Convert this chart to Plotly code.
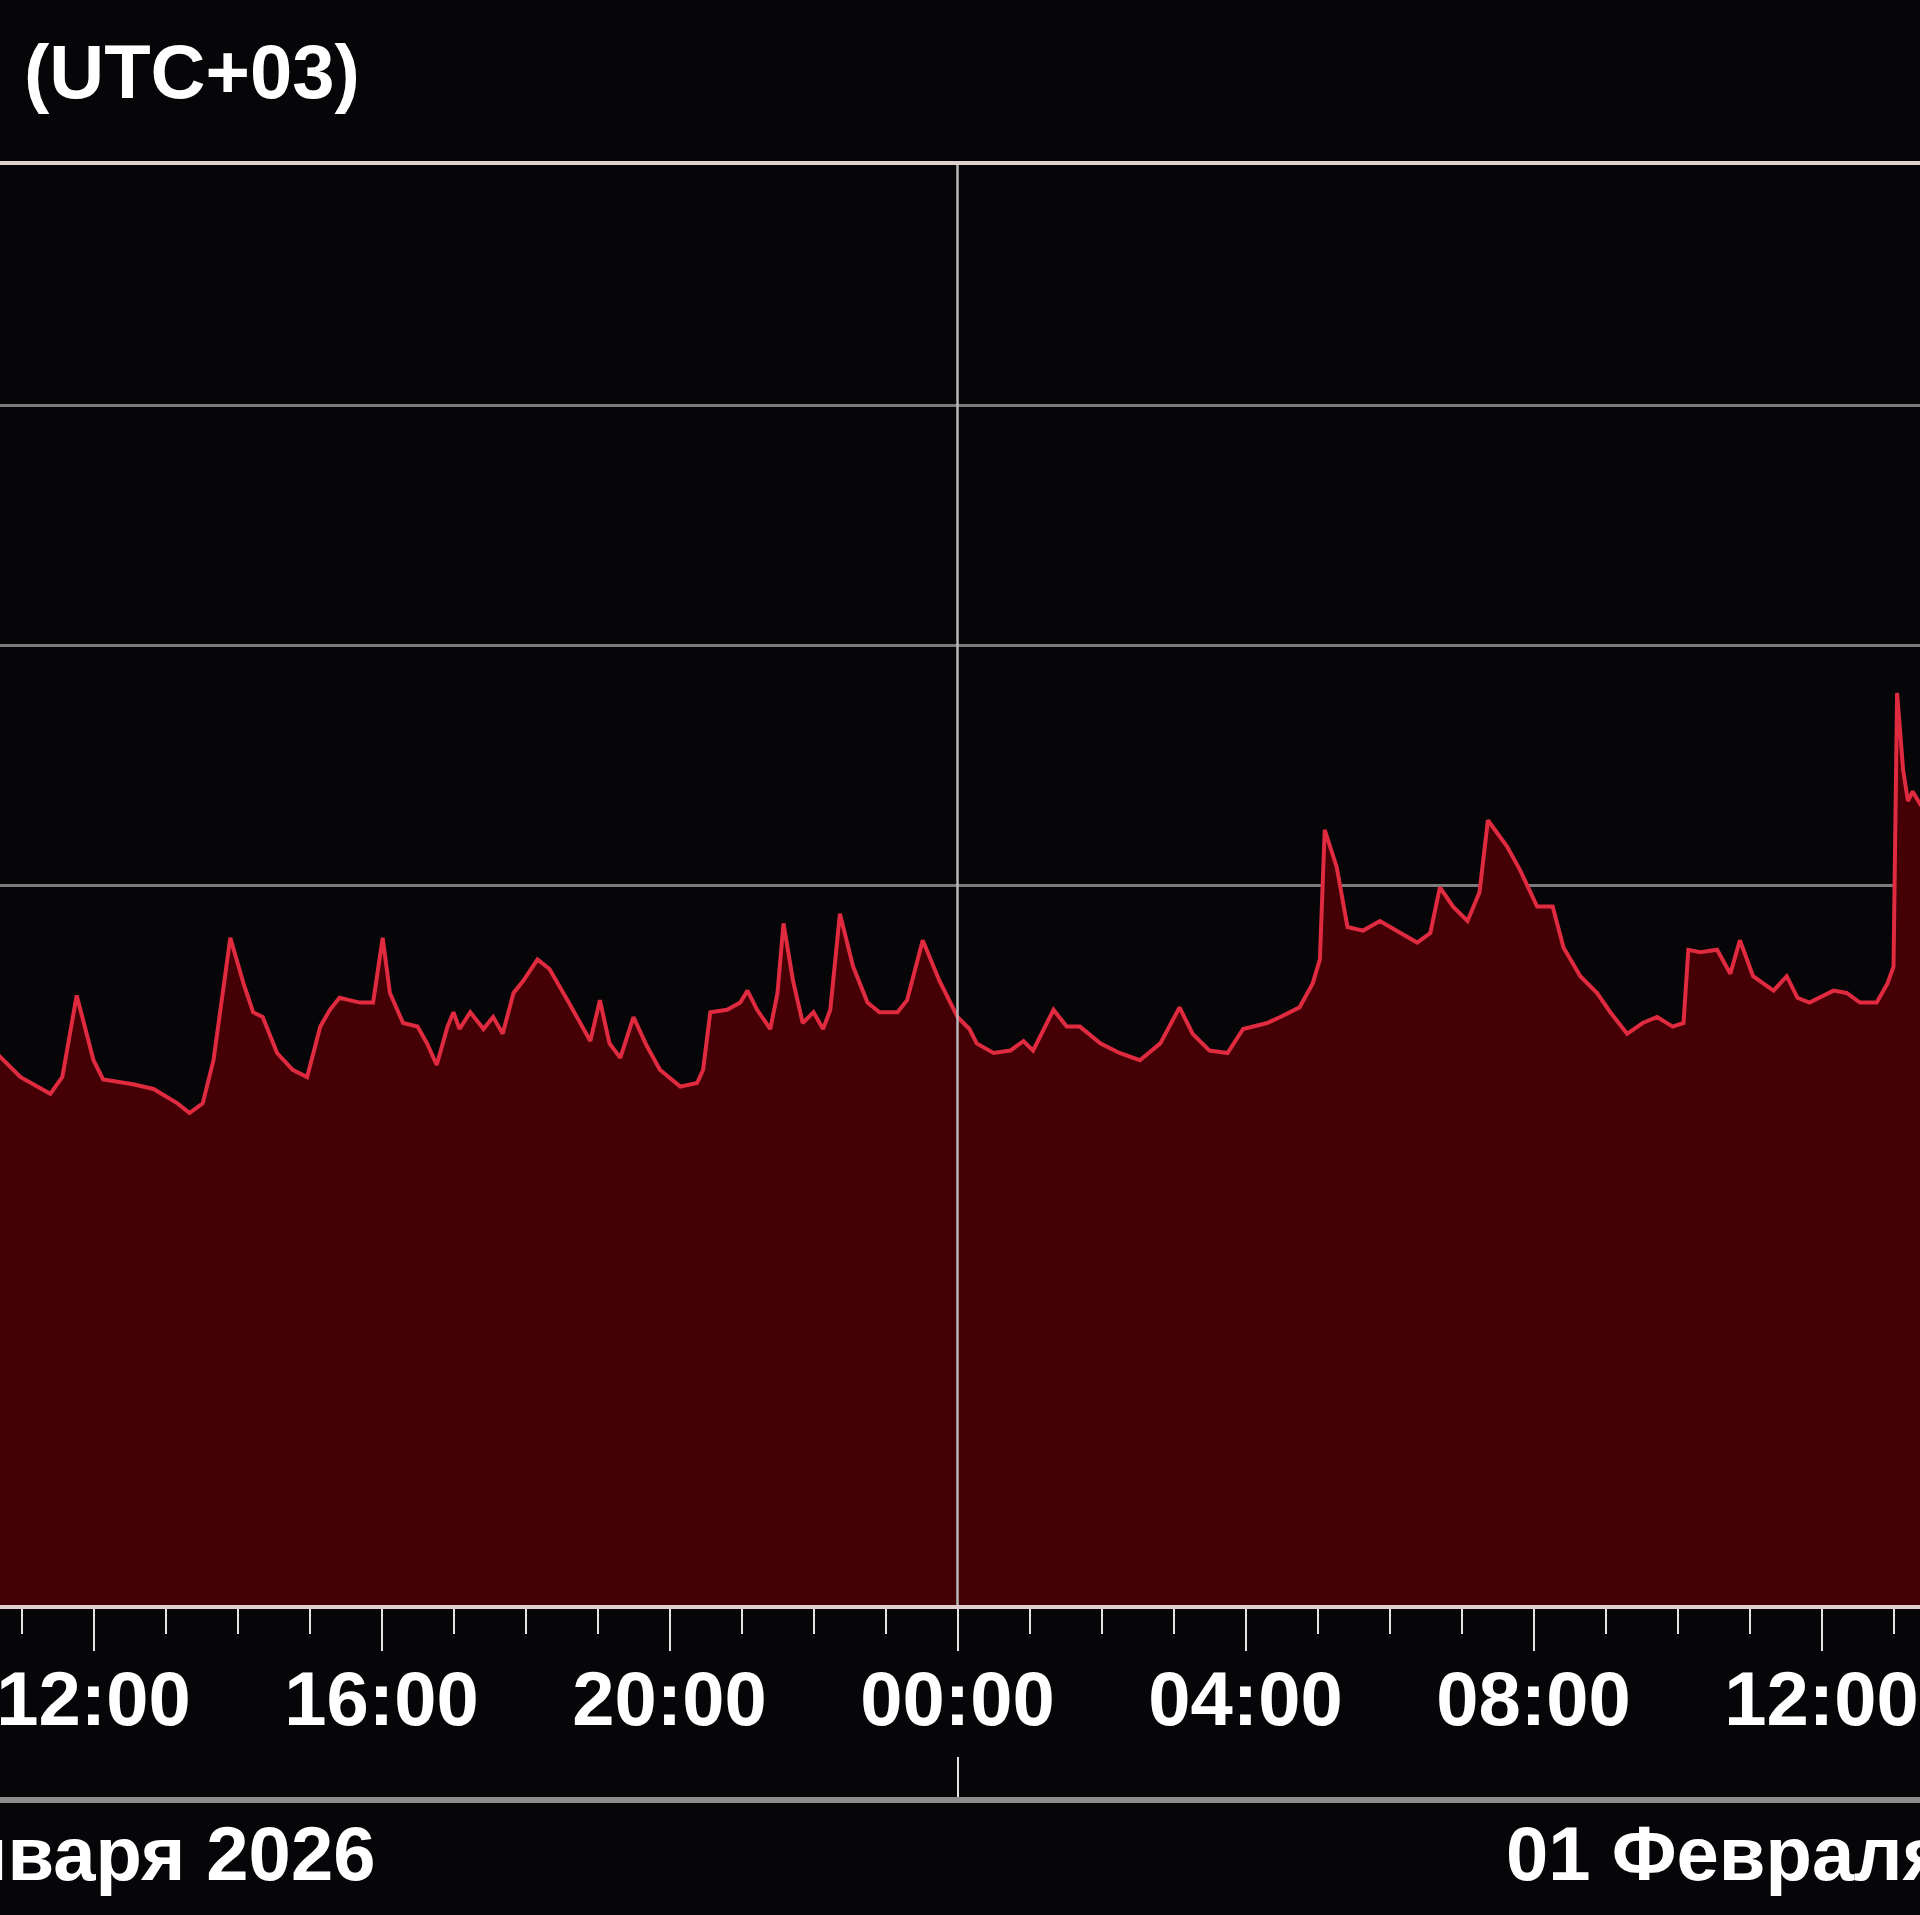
import plotly.graph_objects as go

# ---------------- data ----------------
TIMES = [
    "2026-01-31 10:41", "2026-01-31 10:59", "2026-01-31 11:24", "2026-01-31 11:34", "2026-01-31 11:46",
    "2026-01-31 12:00", "2026-01-31 12:08", "2026-01-31 12:25", "2026-01-31 12:33", "2026-01-31 12:50",
    "2026-01-31 13:10", "2026-01-31 13:20", "2026-01-31 13:31", "2026-01-31 13:40", "2026-01-31 13:54",
    "2026-01-31 14:05", "2026-01-31 14:13", "2026-01-31 14:21", "2026-01-31 14:33", "2026-01-31 14:46",
    "2026-01-31 14:58", "2026-01-31 15:09", "2026-01-31 15:17", "2026-01-31 15:25", "2026-01-31 15:42",
    "2026-01-31 15:53", "2026-01-31 16:01", "2026-01-31 16:07", "2026-01-31 16:18", "2026-01-31 16:30",
    "2026-01-31 16:38", "2026-01-31 16:46", "2026-01-31 16:55", "2026-01-31 17:00", "2026-01-31 17:05",
    "2026-01-31 17:14", "2026-01-31 17:25", "2026-01-31 17:33", "2026-01-31 17:41", "2026-01-31 17:50",
    "2026-01-31 17:58", "2026-01-31 18:10", "2026-01-31 18:20", "2026-01-31 18:35", "2026-01-31 18:48",
    "2026-01-31 18:54", "2026-01-31 19:02", "2026-01-31 19:10", "2026-01-31 19:19", "2026-01-31 19:30",
    "2026-01-31 19:41", "2026-01-31 19:52", "2026-01-31 20:09", "2026-01-31 20:23", "2026-01-31 20:28",
    "2026-01-31 20:34", "2026-01-31 20:48", "2026-01-31 20:59", "2026-01-31 21:05", "2026-01-31 21:13",
    "2026-01-31 21:24", "2026-01-31 21:30", "2026-01-31 21:35", "2026-01-31 21:43", "2026-01-31 21:51",
    "2026-01-31 22:00", "2026-01-31 22:08", "2026-01-31 22:14", "2026-01-31 22:22", "2026-01-31 22:33",
    "2026-01-31 22:45", "2026-01-31 22:55", "2026-01-31 23:10", "2026-01-31 23:18", "2026-01-31 23:31",
    "2026-01-31 23:45",
    "2026-02-01 00:00", "2026-02-01 00:10", "2026-02-01 00:16", "2026-02-01 00:30", "2026-02-01 00:44",
    "2026-02-01 00:55", "2026-02-01 01:03", "2026-02-01 01:20", "2026-02-01 01:31", "2026-02-01 01:42",
    "2026-02-01 01:59", "2026-02-01 02:15", "2026-02-01 02:32", "2026-02-01 02:49", "2026-02-01 03:05",
    "2026-02-01 03:16", "2026-02-01 03:30", "2026-02-01 03:45", "2026-02-01 03:58", "2026-02-01 04:18",
    "2026-02-01 04:29", "2026-02-01 04:37", "2026-02-01 04:45", "2026-02-01 04:56", "2026-02-01 05:02",
    "2026-02-01 05:06", "2026-02-01 05:16", "2026-02-01 05:25", "2026-02-01 05:38", "2026-02-01 05:52",
    "2026-02-01 06:06", "2026-02-01 06:23", "2026-02-01 06:34", "2026-02-01 06:42", "2026-02-01 06:53",
    "2026-02-01 07:05", "2026-02-01 07:15", "2026-02-01 07:22", "2026-02-01 07:38", "2026-02-01 07:49",
    "2026-02-01 08:03", "2026-02-01 08:16", "2026-02-01 08:25", "2026-02-01 08:39", "2026-02-01 08:53",
    "2026-02-01 09:04", "2026-02-01 09:18", "2026-02-01 09:31", "2026-02-01 09:43", "2026-02-01 09:56",
    "2026-02-01 10:05", "2026-02-01 10:09", "2026-02-01 10:19", "2026-02-01 10:33", "2026-02-01 10:44",
    "2026-02-01 10:52", "2026-02-01 11:03", "2026-02-01 11:20", "2026-02-01 11:31", "2026-02-01 11:40",
    "2026-02-01 11:50", "2026-02-01 12:10", "2026-02-01 12:21", "2026-02-01 12:32", "2026-02-01 12:46",
    "2026-02-01 12:55", "2026-02-01 13:00", "2026-02-01 13:03", "2026-02-01 13:08", "2026-02-01 13:12",
    "2026-02-01 13:16", "2026-02-01 13:23",
]
VALUES = [
    22.9, 22.0, 21.3, 22.0, 25.4,
    22.7, 21.9, 21.75, 21.7, 21.5,
    20.9, 20.5, 20.9, 22.7, 27.8,
    25.9, 24.7, 24.5, 23.0, 22.3,
    22.0, 24.1, 24.8, 25.3, 25.1,
    25.1, 27.8, 25.5, 24.25, 24.1,
    23.4, 22.5, 24.1, 24.7, 24.0,
    24.7, 24.0, 24.5, 23.8, 25.5,
    26.0, 26.9, 26.5, 25.2, 24.0,
    23.5, 25.2, 23.4, 22.8, 24.5,
    23.3, 22.3, 21.6, 21.75, 22.3,
    24.7, 24.8, 25.1, 25.6, 24.8,
    24.0, 25.5, 28.4, 26.0, 24.25,
    24.7, 24.0, 24.8, 28.8, 26.6,
    25.1, 24.7, 24.7, 25.2, 27.7,
    26.0,
    24.5, 24.0, 23.4, 23.0, 23.1,
    23.5, 23.1, 24.8, 24.1, 24.1,
    23.4, 23.0, 22.7, 23.4, 24.9,
    23.8, 23.1, 23.0, 24.0, 24.25,
    24.5, 24.7, 24.9, 25.9, 26.9,
    32.3, 30.75, 28.25, 28.1, 28.5,
    28.1, 27.6, 28.0, 29.9, 29.1,
    28.5, 29.7, 32.7, 31.6, 30.6,
    29.1, 29.1, 27.4, 26.2, 25.5,
    24.7, 23.8, 24.25, 24.5, 24.1,
    24.25, 27.3, 27.2, 27.3, 26.3,
    27.7, 26.2, 25.6, 26.2, 25.3,
    25.1, 25.6, 25.5, 25.1, 25.1,
    25.9, 26.6, 38.0, 34.8, 33.5,
    33.9, 33.3,
]

X_RANGE = ["2026-01-31 10:42:05", "2026-02-01 13:22:05"]
Y_RANGE = [0, 60]
HOUR_TICK0 = "2026-01-31 00:00"
DAY_STARTS = ["2026-01-31", "2026-02-01"]
DAY_KEYS = ["31.01.2026", "01.02.2026"]
DAY_LABELS = ["31 января 2026", "01 Февраля 2026"]
TITLE = "(UTC+03)"

# ---------------- style ----------------
BG = "#060507"
FONT = "Liberation Sans, Arial, sans-serif"
LINE_RED = "#df2a40"
FILL_RED = "#440004"
TICK_COL = "#e4e4e4"
HOUR = 3600000
DAY = 86400000

W, H = 1920, 1915
TOP, PLOT_BOTTOM, BAND_LINE = 165, 1605, 1800
paper_h = BAND_LINE - TOP
y_dom0 = (BAND_LINE - PLOT_BOTTOM) / paper_h

tick_font = dict(family=FONT, size=76, color="white", weight="bold")

fig = go.Figure()
fig.add_trace(go.Scatter(
    x=TIMES, y=VALUES, mode="lines",
    line=dict(color=LINE_RED, width=4),
    fill="tozeroy", fillcolor=FILL_RED,
    hoverinfo="skip", showlegend=False,
))
# carrier trace for the date band axis (draws nothing)
fig.add_trace(go.Scatter(
    x=TIMES, y=VALUES, mode="none", xaxis="x2", yaxis="y",
    hoverinfo="skip", showlegend=False,
))

fig.update_layout(
    width=W, height=H,
    paper_bgcolor=BG, plot_bgcolor=BG,
    margin=dict(l=0, r=0, t=TOP, b=H - BAND_LINE, pad=0, autoexpand=False),
    title=dict(
        text=TITLE, xref="container", x=24 / W, xanchor="left",
        yref="container", y=1 - 71 / H, yanchor="middle",
        font=dict(family=FONT, size=76, color="white", weight="bold"),
    ),
    xaxis=dict(
        type="date", range=X_RANGE, anchor="y", automargin=False,
        tick0=HOUR_TICK0, dtick=4 * HOUR, tickformat="%H:%M",
        ticks="outside", ticklen=42, tickwidth=2, tickcolor=TICK_COL,
        tickfont=tick_font, ticklabelstandoff=-17, ticklabeloverflow="allow",
        minor=dict(tick0=HOUR_TICK0, dtick=HOUR, ticks="outside", ticklen=25,
                   tickwidth=2, tickcolor=TICK_COL, showgrid=False),
        showgrid=False, zeroline=False,
        showline=True, linecolor="#e0d0d0", linewidth=4, mirror=True,
        fixedrange=True,
    ),
    xaxis2=dict(
        type="date", range=X_RANGE, overlaying="x", anchor="free", position=0,
        side="bottom", tick0=DAY_STARTS[0], dtick=DAY, automargin=False,
        ticklabelmode="period", tickformat="%d.%m.%Y",
        labelalias=dict(zip(DAY_KEYS, DAY_LABELS)),
        ticks="inside", ticklen=40, tickwidth=2, tickcolor=TICK_COL,
        tickfont=tick_font, ticklabelstandoff=-14, ticklabeloverflow="allow",
        showline=True, linecolor="#8c8c8c", linewidth=6,
        showgrid=False, zeroline=False, fixedrange=True,
    ),
    yaxis=dict(
        range=Y_RANGE, dtick=10, domain=[y_dom0, 1], automargin=False,
        showgrid=True, gridcolor="#7c7c7c", gridwidth=2.5,
        showticklabels=False, ticks="", zeroline=False, showline=False,
        fixedrange=True,
    ),
    shapes=[dict(
        type="line", xref="x", yref="y",
        x0=DAY_STARTS[1], x1=DAY_STARTS[1], y0=Y_RANGE[0], y1=Y_RANGE[1],
        line=dict(color="#b8b8b8", width=2.5), layer="above",
    )],
)

fig.write_html(
    "out.html",
    config={"displayModeBar": False},
    post_script=(
        "document.body.style.margin='0px';"
        "document.body.style.padding='0px';"
        "document.body.style.backgroundColor='#060507';"
        "document.documentElement.style.overflow='hidden';"
    ),
)
